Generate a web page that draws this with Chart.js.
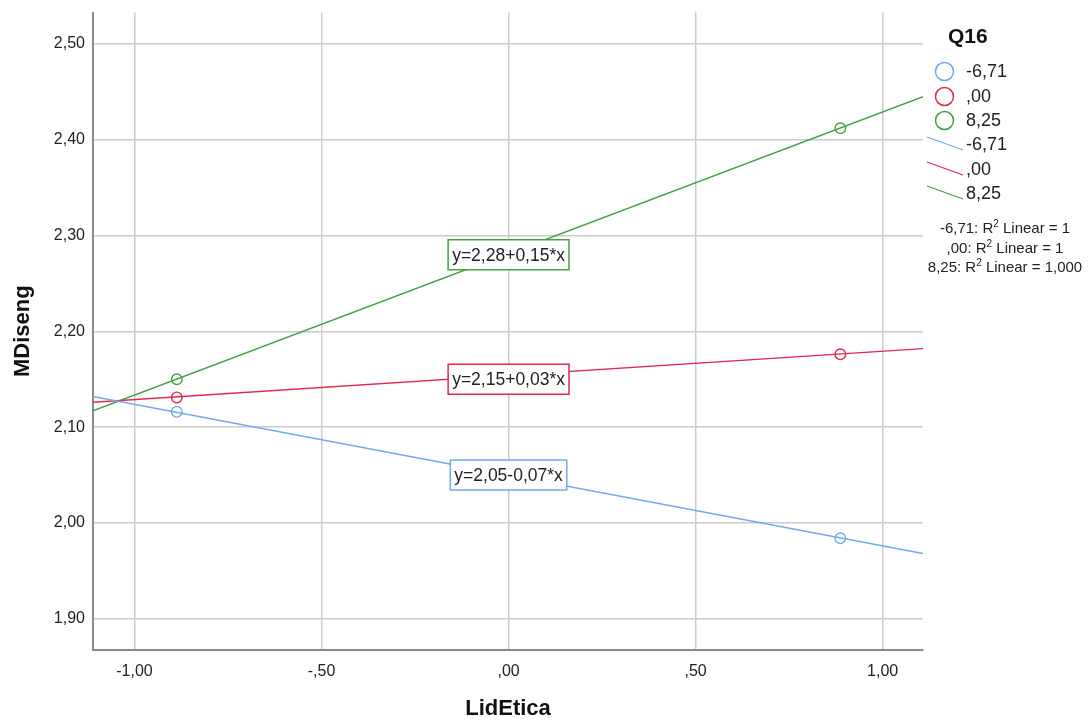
<!DOCTYPE html>
<html>
<head>
<meta charset="utf-8">
<script src="https://cdn.jsdelivr.net/npm/chart.js@4/dist/chart.umd.min.js"></script>
<style>
  html, body { margin: 0; padding: 0; background: #ffffff; }
  #wrap { width: 1092px; height: 722px; position: relative; }
</style>
</head>
<body>
<div id="wrap"><canvas id="c" width="1092" height="722"></canvas></div>
<script>
// ---- data ----
const groups = ['-6,71', ',00', '8,25'];
const groupColors = ['#72a8f0', '#e2284f', '#46a046'];
const pointX = [-0.887, 0.887];
const blueY = [2.116, 1.984];
const redY = [2.131, 2.176];
const greenY = [2.150, 2.412];
const lineX = [-1.111, 1.108];
const blueLineY = [2.132, 1.968];
const redLineY = [2.126, 2.182];
const greenLineY = [2.117, 2.445];
const equations = ['y=2,05-0,07*x', 'y=2,15+0,03*x', 'y=2,28+0,15*x'];
const equationY = [2.050, 2.150, 2.280];
const r2Labels = ['-6,71: R', ',00: R', '8,25: R'];
const r2Values = [' Linear = 1', ' Linear = 1', ' Linear = 1,000'];
const xTickValues = [-1, -0.5, 0, 0.5, 1];
const xTickLabels = ['-1,00', '-,50', ',00', ',50', '1,00'];
const yTickValues = [1.9, 2.0, 2.1, 2.2, 2.3, 2.4, 2.5];
const yTickLabels = ['1,90', '2,00', '2,10', '2,20', '2,30', '2,40', '2,50'];

const FONT = '"Liberation Sans", Arial, sans-serif';
const seriesPts = [blueY, redY, greenY];
const seriesLines = [blueLineY, redLineY, greenLineY];

const datasets = [];
seriesLines.forEach((ys, i) => {
  datasets.push({
    label: groups[i] + ' fit',
    data: lineX.map((x, j) => ({x: x, y: ys[j]})),
    showLine: true,
    borderColor: groupColors[i],
    borderWidth: 1.4,
    pointRadius: 0,
    fill: false
  });
});
seriesPts.forEach((ys, i) => {
  datasets.push({
    label: groups[i],
    data: pointX.map((x, j) => ({x: x, y: ys[j]})),
    showLine: false,
    pointStyle: 'circle',
    pointRadius: 5.3,
    pointBorderWidth: 1.4,
    pointBorderColor: groupColors[i],
    pointBackgroundColor: 'rgba(0,0,0,0)'
  });
});

const overlay = {
  id: 'overlay',
  afterDatasetsDraw(chart) {
    const ctx = chart.ctx;
    const xs = chart.scales.x, ys = chart.scales.y;
    ctx.save();
    ctx.font = '17.5px ' + FONT;
    ctx.textAlign = 'center';
    ctx.textBaseline = 'middle';
    equations.forEach((t, i) => {
      const cx = xs.getPixelForValue(0);
      const cy = ys.getPixelForValue(equationY[i]);
      const w = ctx.measureText(t).width + 8;
      const h = 30;
      ctx.fillStyle = '#ffffff';
      ctx.fillRect(cx - w / 2, cy - h / 2, w, h);
      ctx.strokeStyle = groupColors[i];
      ctx.lineWidth = 1.5;
      ctx.strokeRect(cx - w / 2, cy - h / 2, w, h);
      ctx.fillStyle = '#222222';
      ctx.fillText(t, cx, cy + 1);
    });
    ctx.restore();
  },
  afterDraw(chart) {
    const ctx = chart.ctx;
    ctx.save();
    // legend title
    ctx.fillStyle = '#111111';
    ctx.font = 'bold 21px ' + FONT;
    ctx.textAlign = 'left';
    ctx.textBaseline = 'alphabetic';
    ctx.fillText('Q16', 948, 43);
    // marker rows
    const markerRows = [71.5, 96.5, 120.5];
    ctx.font = '18px ' + FONT;
    ctx.textBaseline = 'middle';
    markerRows.forEach((y, i) => {
      ctx.beginPath();
      ctx.arc(944.5, y, 9, 0, Math.PI * 2);
      ctx.strokeStyle = groupColors[i];
      ctx.lineWidth = 1.5;
      ctx.stroke();
      ctx.fillStyle = '#222222';
      ctx.fillText(groups[i], 966, y + 1);
    });
    const lineRows = [144, 169, 193];
    lineRows.forEach((y, i) => {
      ctx.beginPath();
      ctx.moveTo(927, y - 7);
      ctx.lineTo(963, y + 6);
      ctx.strokeStyle = groupColors[i];
      ctx.lineWidth = 1.3;
      ctx.stroke();
      ctx.fillStyle = '#222222';
      ctx.fillText(groups[i], 966, y + 1);
    });
    // R2 lines
    const r2Rows = [228, 248, 267];
    r2Rows.forEach((y, i) => {
      ctx.font = '15px ' + FONT;
      const a = r2Labels[i], b = r2Values[i];
      const wa = ctx.measureText(a).width;
      const wb = ctx.measureText(b).width;
      ctx.font = '10px ' + FONT;
      const ws = ctx.measureText('2').width;
      const total = wa + ws + wb;
      let x = 1005 - total / 2;
      ctx.fillStyle = '#222222';
      ctx.textAlign = 'left';
      ctx.textBaseline = 'alphabetic';
      ctx.font = '15px ' + FONT;
      ctx.fillText(a, x, y + 5);
      x += wa;
      ctx.font = '10px ' + FONT;
      ctx.fillText('2', x, y - 1);
      x += ws;
      ctx.font = '15px ' + FONT;
      ctx.fillText(b, x, y + 5);
    });
    ctx.restore();
  }
};

new Chart(document.getElementById('c'), {
  type: 'scatter',
  data: { datasets: datasets },
  plugins: [overlay],
  options: {
    responsive: false,
    animation: false,
    devicePixelRatio: 1,
    layout: { padding: { left: 0, right: 169, top: 12.5, bottom: 0 } },
    plugins: { legend: { display: false }, tooltip: { enabled: false } },
    scales: {
      x: {
        type: 'linear',
        min: -1.111,
        max: 1.108,
        afterBuildTicks(s) { s.ticks = xTickValues.map(v => ({ value: v })); },
        afterFit(s) { s.height = 72; s.paddingLeft = 0; s.paddingRight = 0; },
        ticks: {
          autoSkip: false,
          maxRotation: 0,
          padding: 12,
          color: '#222222',
          font: { family: FONT, size: 16 },
          callback(v) { const k = xTickValues.indexOf(v); return k >= 0 ? xTickLabels[k] : ''; }
        },
        grid: { color: '#cccccc', lineWidth: 1.5, drawTicks: false },
        border: { color: '#8a8a8a', width: 2 },
        title: {
          display: true,
          text: 'LidEtica',
          color: '#111111',
          font: { family: FONT, size: 22, weight: 'bold' },
          padding: { top: 0, bottom: 0 }
        }
      },
      y: {
        type: 'linear',
        min: 1.8673,
        max: 2.5329,
        afterBuildTicks(s) { s.ticks = yTickValues.map(v => ({ value: v })); },
        afterFit(s) { s.width = 93; s.paddingTop = 0; s.paddingBottom = 0; },
        ticks: {
          autoSkip: false,
          padding: 8,
          color: '#222222',
          font: { family: FONT, size: 16 },
          callback(v) {
            const k = yTickValues.findIndex(t => Math.abs(t - v) < 1e-6);
            return k >= 0 ? yTickLabels[k] : '';
          }
        },
        grid: { color: '#cccccc', lineWidth: 1.5, drawTicks: false },
        border: { color: '#8a8a8a', width: 2 },
        title: {
          display: true,
          text: 'MDiseng',
          color: '#111111',
          font: { family: FONT, size: 22, weight: 'bold' },
          padding: { top: 10, bottom: 0 }
        }
      }
    }
  }
});
</script>
</body>
</html>
